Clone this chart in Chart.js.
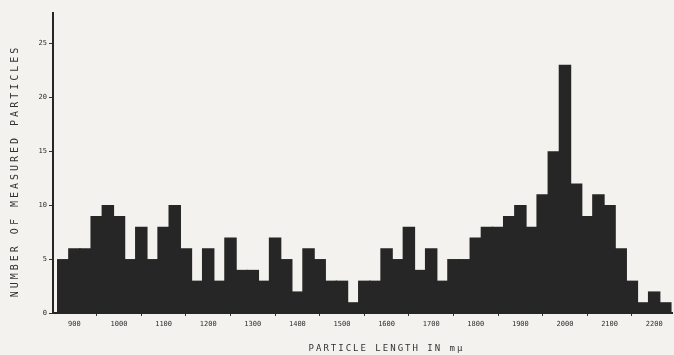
<!DOCTYPE html>
<html>
<head>
<meta charset="utf-8">
<script src="https://cdn.jsdelivr.net/npm/chart.js@4/dist/chart.umd.min.js"></script>
<style>
    html, body { margin: 0; padding: 0; background: #f3f2ef; }
    #wrap { width: 674px; height: 355px; position: relative; }
</style>
</head>
<body>
<div id="wrap"><canvas id="chart"></canvas></div>
<script>
// Центры интервалов (длина частиц, mμ), шаг 25
const binCenters = [
    875, 900, 925, 950, 975, 1000, 1025, 1050, 1075, 1100,
    1125, 1150, 1175, 1200, 1225, 1250, 1275, 1300, 1325, 1350,
    1375, 1400, 1425, 1450, 1475, 1500, 1525, 1550, 1575, 1600,
    1625, 1650, 1675, 1700, 1725, 1750, 1775, 1800, 1825, 1850,
    1875, 1900, 1925, 1950, 1975, 2000, 2025, 2050, 2075, 2100,
    2125, 2150, 2175, 2200, 2225
];

// Число измеренных частиц в каждом интервале
const particleCounts = [
    5, 6, 6, 9, 10, 9, 5, 8, 5, 8,
    10, 6, 3, 6, 3, 7, 4, 4, 3, 7,
    5, 2, 6, 5, 3, 3, 1, 3, 3, 6,
    5, 8, 4, 6, 3, 5, 5, 7, 8, 8,
    9, 10, 8, 11, 15, 23, 12, 9, 11, 10,
    6, 3, 1, 2, 1
];

// Подписи осей
const xTickValues = [900, 1000, 1100, 1200, 1300, 1400, 1500, 1600, 1700, 1800, 1900, 2000, 2100, 2200];
const yTickValues = [0, 5, 10, 15, 20, 25];

const xTitle = 'PARTICLE LENGTH IN mμ';
const yTitle = 'NUMBER OF MEASURED PARTICLES';

const INK = '#262626';
const FONT = '"DejaVu Sans Mono", "Liberation Mono", monospace';

// Подписи осей рисуем сами, чтобы задать разрядку букв
const axisTitles = {
    id: 'axisTitles',
    afterDraw(chart) {
        const ctx = chart.ctx;
        const area = chart.chartArea;

        ctx.save();
        ctx.fillStyle = '#333';
        ctx.textAlign = 'center';
        ctx.textBaseline = 'middle';
        ctx.letterSpacing = '2px';
        ctx.font = '9px ' + FONT;
        ctx.fillText(xTitle, (area.left + area.right) / 2 + 24, 349);
        ctx.restore();

        ctx.save();
        ctx.fillStyle = '#333';
        ctx.textAlign = 'center';
        ctx.textBaseline = 'middle';
        ctx.letterSpacing = '3px';
        ctx.font = '10px ' + FONT;
        ctx.translate(15, (area.top + area.bottom) / 2 + 8);
        ctx.rotate(-Math.PI / 2);
        ctx.fillText(yTitle, 0, 0);
        ctx.restore();
    }
};

const ctx = document.getElementById('chart');

new Chart(ctx, {
    type: 'bar',
    data: {
        datasets: [{
            data: binCenters.map((x, i) => ({ x: x, y: particleCounts[i] })),
            backgroundColor: INK,
            borderWidth: 0,
            barPercentage: 1.12,
            categoryPercentage: 1
        }]
    },
    options: {
        responsive: true,
        maintainAspectRatio: false,
        animation: false,
        layout: {
            padding: { top: 13, right: 2, left: 0, bottom: 0 }
        },
        plugins: {
            legend: { display: false },
            tooltip: { enabled: false }
        },
        scales: {
            x: {
                type: 'linear',
                min: 852,
                max: 2240,
                offset: false,
                afterBuildTicks: scale => {
                    scale.ticks = xTickValues.map(v => ({ value: v }));
                },
                afterFit: scale => {
                    scale.height = 42;
                },
                grid: {
                    drawOnChartArea: false,
                    drawTicks: true,
                    tickLength: 3,
                    color: '#333',
                    lineWidth: 1
                },
                border: {
                    display: true,
                    color: INK,
                    width: 2
                },
                ticks: {
                    color: '#2e2e2e',
                    padding: 4,
                    maxRotation: 0,
                    autoSkip: false,
                    font: { family: FONT, size: 7 },
                    callback: value => String(value)
                }
            },
            y: {
                min: 0,
                max: 27.8,
                afterBuildTicks: scale => {
                    scale.ticks = yTickValues.map(v => ({ value: v }));
                },
                afterFit: scale => {
                    scale.width = 53;
                },
                grid: {
                    drawOnChartArea: false,
                    drawTicks: true,
                    tickLength: 4,
                    color: '#333',
                    lineWidth: 1
                },
                border: {
                    display: true,
                    color: INK,
                    width: 2
                },
                ticks: {
                    color: '#2e2e2e',
                    padding: 2,
                    font: { family: FONT, size: 7 },
                    callback: value => String(value)
                }
            }
        }
    },
    plugins: [axisTitles]
});
</script>
</body>
</html>
